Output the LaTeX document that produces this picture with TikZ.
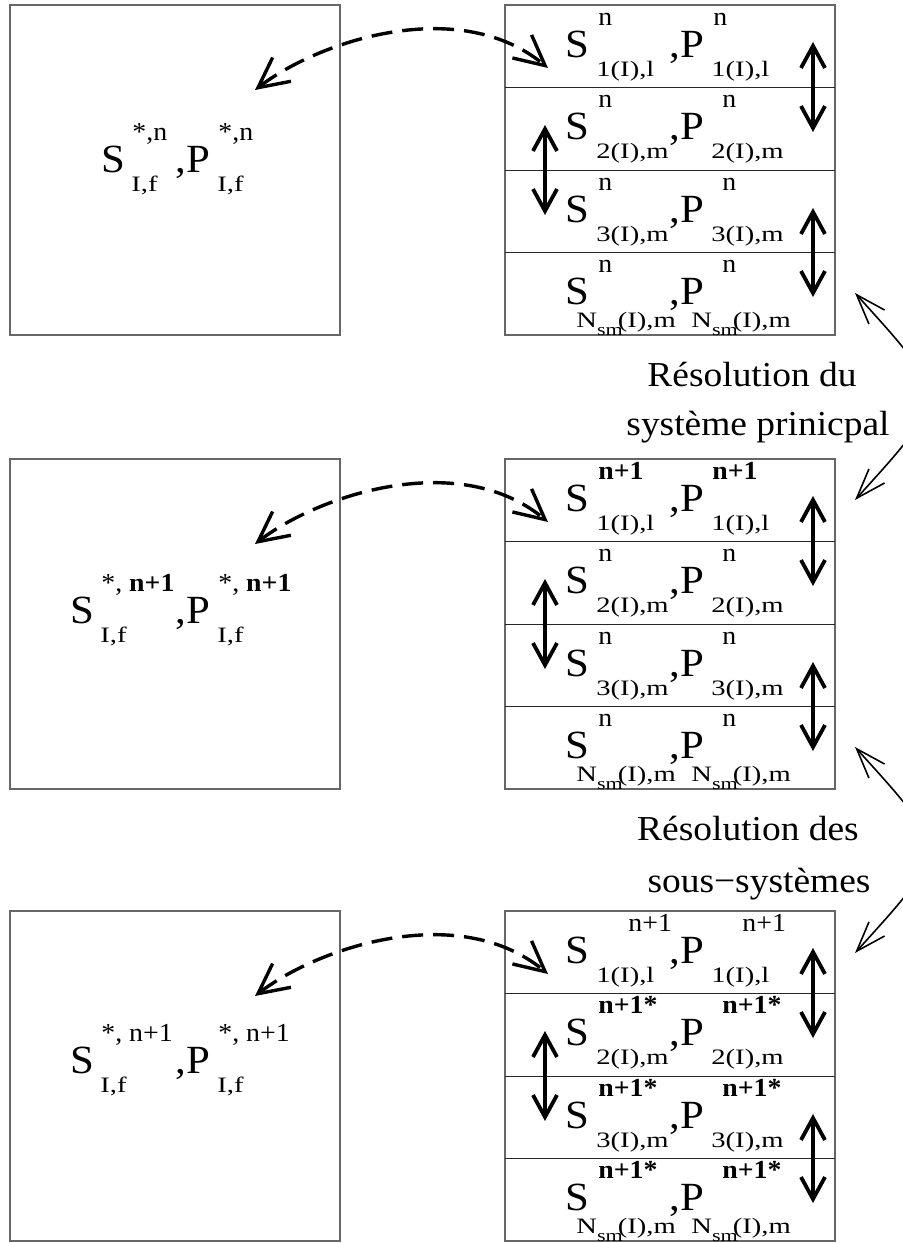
\documentclass[tikz,border=0pt]{standalone}
\usepackage{fontspec}
\setmainfont{Liberation Serif}
\newfontfamily\eqfont[FakeStretch=1.07]{Liberation Serif}
\newfontfamily\subfont[FakeStretch=1.3]{Liberation Serif}
\usetikzlibrary{calc}
\usetikzlibrary{arrows.meta}
\newcommand*{\Nsm}{\kern-10pt\raisebox{-2pt}{N\raisebox{-4pt}{\fontsize{8.5}{9}\selectfont sm}\kern-2.5pt(I),m}}
% one row of a sub-domain box: box, row, sup S, sub S, sup P, sub P
\newcommand*{\SProw}[6]{%
  \path ($(#1.north west)+(0,82.5*#2)$)
    +(60,52) node[eqbig] {S}
    +(93,20) node[eqsup] {#3}
    +(91,71) node[eqsub] {#4}
    +(164,52) node[eqbig] {,P}
    +(217,20) node[eqsup] {#5}
    +(206,71) node[eqsub] {#6};}
% the fine-grid values: box, x of S, baseline, superscript
\newcommand*{\SPleft}[4]{%
  \path (#1.north west)
    +(#2,#3) node[eqbig] {S}
    +(#2+31,#3-32) node[eqsup] {#4}
    +(#2+30,#3+19) node[eqsub] {I,f}
    +(165,#3) node[eqbig] {,P}
    +(208,#3-32) node[eqsup] {#4}
    +(207,#3+19) node[eqsub] {I,f};}
\tikzset{
    blk/.style={
        draw=black!60,line width=.6pt,
        minimum size=165pt,
        inner sep=0pt,outer sep=0pt,
        },
    rowsep/.style={draw=black!85,line width=.5pt},
    eqbig/.style={font=\eqfont\fontsize{20}{24}\selectfont,inner sep=0pt,anchor=base west},
    eqsup/.style={font=\eqfont\fontsize{13}{15}\selectfont,inner sep=0pt,anchor=base west},
    eqsub/.style={font=\subfont\fontsize{11}{13}\selectfont,inner sep=0pt,anchor=base west},
    steptext/.style={font=\eqfont\fontsize{17.5}{21}\selectfont,inner sep=0pt,anchor=base},
    exch/.style={line width=1.7pt,dash pattern=on 10.5pt off 5pt,
        >={Straight Barb[length=15pt,width=15pt]},<->},
    pair/.style={line width=1.9pt,>={Straight Barb[length=11pt,width=12pt]},<->},
    cyc/.style={line width=.8pt,>={Straight Barb[length=15pt,width=10.5pt]},<->},
    }

\begin{document}
\begin{tikzpicture}[x=.5pt,y=-.5pt]
    \useasboundingbox (0,0) rectangle (902,1243);
    \node[blk] (L1) at (175,170) {};
    \node[blk] (L2) at (175,624) {};
    \node[blk] (L3) at (175,1076) {};
    \node[blk] (R1) at (670,170) {};
    \node[blk] (R2) at (670,624) {};
    \node[blk] (R3) at (670,1076) {};
    \foreach \i in {1,2,3}{
        \foreach \k in {1,2,3}
            \draw[rowsep] ($(R\i.north west)!\k/4!(R\i.south west)$) -- ($(R\i.north east)!\k/4!(R\i.south east)$);
        \coordinate (f\i) at ($(L\i.north west)+(245,85)$);
        \coordinate (c\i) at ($(R\i.north west)+(43,63)$);
        \draw[exch] (f\i) .. controls +(65,-50) and +(-88,-73) .. (c\i);
        \draw[pair] ($(R\i.north west)+(308,37)$) -- +(0,90);
        \draw[pair] ($(R\i.north west)+(40,120)$) -- +(0,90);
        \draw[pair] ($(R\i.north west)+(308,203)$) -- +(0,89);
    }
    \SPleft{L1}{91}{167}{*,n}
    \SPleft{L2}{60}{164}{*, \textbf{n+1}}
    \SPleft{L3}{60}{162}{*, n+1}
    \SProw{R1}{0}{n}{1(I),l}{\kern-4.5pt n}{1(I),l}
    \SProw{R1}{1}{n}{2(I),m}{n}{2(I),m}
    \SProw{R1}{2}{n}{3(I),m}{n}{3(I),m}
    \SProw{R1}{3}{n}{\Nsm}{n}{\Nsm}
    \SProw{R2}{0}{\bfseries n+1}{1(I),l}{\kern-5pt\bfseries n+1}{1(I),l}
    \SProw{R2}{1}{n}{2(I),m}{n}{2(I),m}
    \SProw{R2}{2}{n}{3(I),m}{n}{3(I),m}
    \SProw{R2}{3}{n}{\Nsm}{n}{\Nsm}
    \SProw{R3}{0}{\kern15pt n+1}{1(I),l}{\kern10pt n+1}{1(I),l}
    \SProw{R3}{1}{\bfseries n+1*}{2(I),m}{\bfseries n+1*}{2(I),m}
    \SProw{R3}{2}{\bfseries n+1*}{3(I),m}{\bfseries n+1*}{3(I),m}
    \SProw{R3}{3}{\bfseries n+1*}{\Nsm}{\bfseries n+1*}{\Nsm}
    \coordinate (p1) at ($(R1.south east)+(20,-42)$);
    \coordinate (q1) at ($(R2.north east)+(20,41)$);
    \coordinate (p2) at ($(R2.south east)+(20,-42)$);
    \coordinate (q2) at ($(R3.north east)+(20,42)$);
    \draw[cyc] (p1) .. controls +(95,105) and +(95,-105) .. (q1);
    \draw[cyc] (p2) .. controls +(95,105) and +(95,-105) .. (q2);
    \node[steptext] (res1) at (752,386) {Résolution du};
    \node[steptext] (sys1) at (758,435) {système prinicpal};
    \node[steptext] (res2) at (748,840) {Résolution des};
    \node[steptext] (sys2) at (759,892) {sous−systèmes};
\end{tikzpicture}
\end{document}
